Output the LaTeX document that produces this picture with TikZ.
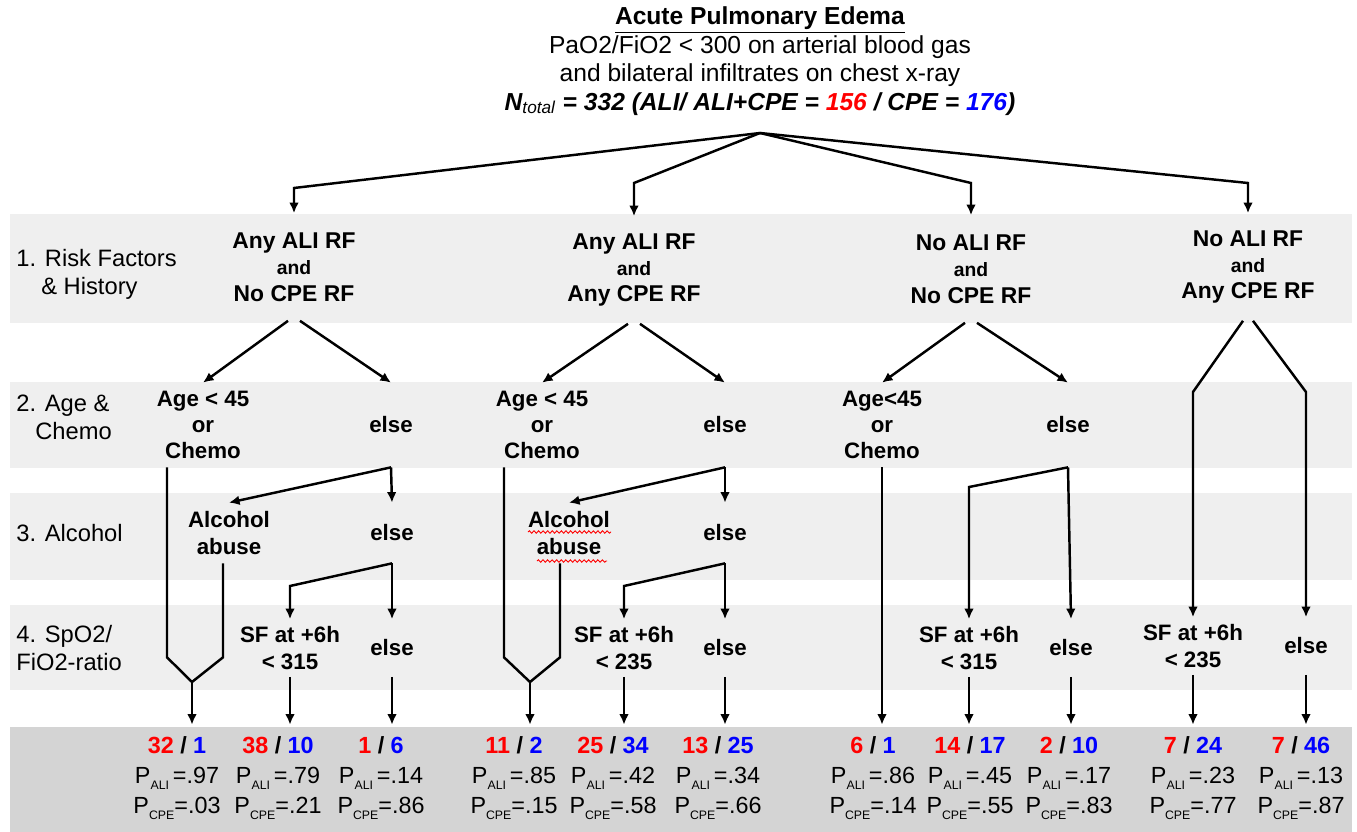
\documentclass[tikz,border=0pt]{standalone}
\usepackage{fontspec}
\setmainfont{Liberation Sans}
\usepackage{xcolor}
\usepackage{tikz}
\usetikzlibrary{arrows.meta,decorations.pathmorphing}
\definecolor{bandgray}{HTML}{EFEFEF}
\definecolor{resgray}{HTML}{D4D4D4}
\newcommand{\andsz}{\fontsize{11}{15}\selectfont}
\newcommand{\subsz}[1]{\raisebox{-0.45ex}{\fontsize{7}{7}\selectfont #1}}
\newcommand{\pali}[1]{P\subsz{ALI}\,=#1}
\newcommand{\pcpe}[1]{P\subsz{CPE}=#1}
\newcommand{\nn}[2]{\textbf{\textcolor{red}{#1} / \textcolor{blue}{#2}}}
\tikzstyle{rf} = [align=center, inner sep=0pt, minimum height=2.14cm,
                  font=\bfseries\fontsize{13}{15}\selectfont]
\tikzstyle{cond} = [align=center, inner sep=0pt,
                    font=\bfseries\fontsize{12.7}{15}\selectfont]
\tikzstyle{res} = [align=center, inner sep=0pt, minimum height=2.12cm,
                   font=\fontsize{13.3}{17}\selectfont]
\tikzstyle{rowlab} = [align=left, anchor=west, inner sep=0pt,
                      font=\fontsize{13.5}{15.8}\selectfont]

\begin{document}
\begin{tikzpicture}[x=0.02cm, y=-0.02cm,
arr/.style={-{Latex[length=6pt,width=5.5pt]}, line width=1.4pt},
ln/.style={line width=1.4pt},
row2/.style={cond, minimum height=1.68cm},
row3/.style={cond, minimum height=1.2cm},
row4/.style={cond, minimum height=1.14cm},
squiggle/.style={red, line width=0.5pt, decorate, decoration={snake, amplitude=0.7pt, segment length=2.6pt}}]
\useasboundingbox (0,0) rectangle (1357,832);

% bands
\fill[bandgray] (10,214) rectangle (1352,323);
\fill[bandgray] (10,382) rectangle (1352,468);
\fill[bandgray] (10,493) rectangle (1352,580);
\fill[bandgray] (10,605) rectangle (1352,690);
\fill[resgray] (10,727) rectangle (1352,832);

% header
\node[align=center, font=\fontsize{14}{16.2}\selectfont] (title) at (760,61)
  {\underline{\textbf{Acute Pulmonary Edema}}\\
   PaO2/FiO2 < 300 on arterial blood gas\\
   and bilateral infiltrates on chest x-ray\\
   \textbf{\textit{N\textsubscript{\mdseries total} = 332 (ALI/ ALI+CPE = \textcolor{red}{156} / CPE = \textcolor{blue}{176})}}};
\coordinate (root) at (760,133);

% row labels
\node[rowlab] (l1) at (16,274) {1. Risk Factors\\\hspace{0.5cm}\& History};
\node[rowlab] (l2) at (16,417) {2. Age \&\\\hspace{0.38cm}Chemo};
\node[rowlab] (l3) at (16,533) {3. Alcohol};
\node[rowlab] (l4) at (16,648) {4. SpO2/\\FiO2-ratio};

% 1. risk factors
\node[rf] (n1) at (294,267) {Any ALI RF\\{\andsz and}\\No CPE RF};
\node[rf] (n2) at (634,270) {Any ALI RF\\{\andsz and}\\Any CPE RF};
\node[rf] (n3) at (971,269) {No ALI RF\\{\andsz and}\\No CPE RF};
\node[rf] (n4) at (1248,267) {No ALI RF\\{\andsz and}\\Any CPE RF};

% 2. age and chemo
\node[row2] (a1) at (203,425) {Age < 45\\or\\Chemo};
\node[row2] (e1) at (391,425) {else};
\node[row2] (a2) at (542,425) {Age < 45\\or\\Chemo};
\node[row2] (e2) at (725,425) {else};
\node[row2] (a3) at (882,425) {Age<45\\or\\Chemo};
\node[row2] (e3) at (1068,425) {else};

% 3. alcohol
\node[row3] (al1) at (229,533) {Alcohol\\abuse};
\node[row3] (f1) at (392,533) {else};
\node[row3] (al2) at (569,533) {Alcohol\\abuse};
\node[row3] (f2) at (725,533) {else};
\draw[squiggle] (al2.center) ++(-41,-1) -- ++(83,0);
\draw[squiggle] (al2.center) ++(-32,28) -- ++(70,0);

% 4. SpO2/FiO2
\node[row4] (s1) at (290,648) {SF at +6h\\< 315};
\node[row4] (g1) at (392,648) {else};
\node[row4] (s2) at (624,648) {SF at +6h\\< 235};
\node[row4] (g2) at (725,648) {else};
\node[row4] (s3) at (969,648) {SF at +6h\\< 315};
\node[row4] (g3) at (1071,648) {else};
\node[row4] (s4) at (1193,646) {SF at +6h\\< 235};
\node[row4] (g4) at (1306,646) {else};

% results
\node[res] (r1) at (177,778) {\nn{32}{1}\\\pali{.97}\\\pcpe{.03}};
\node[res] (r2) at (278,778) {\nn{38}{10}\\\pali{.79}\\\pcpe{.21}};
\node[res] (r3) at (381,778) {\nn{1}{6}\\\pali{.14}\\\pcpe{.86}};
\node[res] (r4) at (514,778) {\nn{11}{2}\\\pali{.85}\\\pcpe{.15}};
\node[res] (r5) at (613,778) {\nn{25}{34}\\\pali{.42}\\\pcpe{.58}};
\node[res] (r6) at (718,778) {\nn{13}{25}\\\pali{.34}\\\pcpe{.66}};
\node[res] (r7) at (873,778) {\nn{6}{1}\\\pali{.86}\\\pcpe{.14}};
\node[res] (r8) at (970,778) {\nn{14}{17}\\\pali{.45}\\\pcpe{.55}};
\node[res] (r9) at (1069,778) {\nn{2}{10}\\\pali{.17}\\\pcpe{.83}};
\node[res] (r10) at (1193,778) {\nn{7}{24}\\\pali{.23}\\\pcpe{.77}};
\node[res] (r11) at (1301,778) {\nn{7}{46}\\\pali{.13}\\\pcpe{.87}};

% root arrows
\draw[arr] (root) -- (n1.north |- 0,188) -- (n1.north);
\draw[arr] (root) -- (n2.north |- 0,183) -- (n2.north);
\draw[arr] (root) -- (n3.north |- 0,183) -- (n3.north);
\draw[arr] (root) -- (n4.north |- 0,183) -- (n4.north);

% column 1
\coordinate (m1) at (192,682);
\draw[arr] ([xshift=-0.12cm]n1.south) -- (a1.north);
\draw[arr] ([xshift=0.12cm]n1.south) -- (e1.north);
\draw[ln] ([xshift=-0.72cm]a1.south) -- ++(0,190) -- (m1);
\draw[ln] ([xshift=-0.12cm]al1.south) -- ++(0,94) -- (m1);
\draw[arr] (m1) -- (m1 |- r1.north);
\draw[arr] (e1.south) -- (al1.north);
\draw[arr] (e1.south) -- (f1.north);
\draw[arr] (f1.south) -- (s1.north |- 0,586) -- (s1.north);
\draw[arr] (f1.south) -- (g1.north);
\draw[arr] (s1.south) -- (s1.south |- r2.north);
\draw[arr] (g1.south) -- (g1.south |- r3.north);

% column 2
\coordinate (m2) at (530,682);
\draw[arr] ([xshift=-0.12cm]n2.south) -- (a2.north);
\draw[arr] ([xshift=0.12cm]n2.south) -- (e2.north);
\draw[ln] ([xshift=-0.76cm]a2.south) -- ++(0,190) -- (m2);
\draw[ln] ([xshift=-0.18cm]al2.south) -- ++(0,94) -- (m2);
\draw[arr] (m2) -- (m2 |- r4.north);
\draw[arr] (e2.south) -- (al2.north);
\draw[arr] (e2.south) -- (f2.north);
\draw[arr] (f2.south) -- (s2.north |- 0,586) -- (s2.north);
\draw[arr] (f2.south) -- (g2.north);
\draw[arr] (s2.south) -- (s2.south |- r5.north);
\draw[arr] (g2.south) -- (g2.south |- r6.north);

% column 3
\draw[arr] ([xshift=-0.12cm]n3.south) -- (a3.north);
\draw[arr] ([xshift=0.12cm]n3.south) -- (e3.north);
\draw[arr] (a3.south) -- (a3.south |- r7.north);
\draw[arr] (e3.south) -- (s3.north |- 0,487) -- (s3.north);
\draw[arr] (e3.south) -- (g3.north);
\draw[arr] (s3.south) -- (s3.south |- r8.north);
\draw[arr] (g3.south) -- (g3.south |- r9.north);

% column 4
\draw[arr] ([xshift=-0.1cm]n4.south) -- (s4.north |- 0,392) -- (s4.north);
\draw[arr] ([xshift=0.1cm]n4.south) -- (g4.north |- 0,392) -- (g4.north);
\draw[arr] (s4.south) -- (s4.south |- r10.north);
\draw[arr] (g4.south) -- (g4.south |- r11.north);
\end{tikzpicture}
\end{document}
